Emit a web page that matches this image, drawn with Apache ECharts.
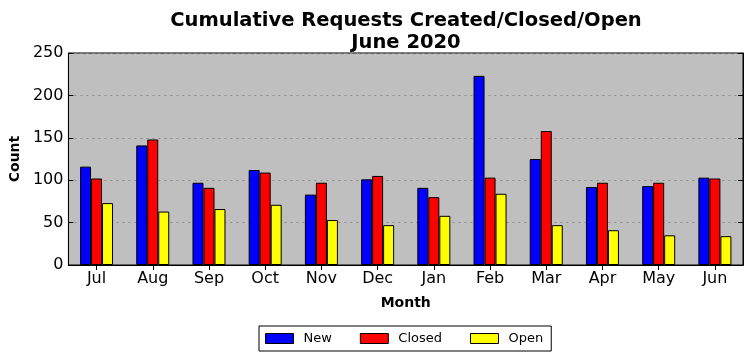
<!DOCTYPE html>
<html><head><meta charset="utf-8">
<script src="https://cdn.jsdelivr.net/npm/echarts@6/dist/echarts.min.js"></script>
<style>html,body{margin:0;padding:0;background:#fff}#c{width:752px;height:361px}</style>
</head><body><div id="c"></div>
<script>
const months = ['Jul','Aug','Sep','Oct','Nov','Dec','Jan','Feb','Mar','Apr','May','Jun'];
const newVals = [116,141,97,112,83,101,91,223,125,92,93,103];
const closedVals = [102,148,91,109,97,105,80,103,158,97,97,102];
const openVals = [73,63,66,71,53,47,58,84,47,41,35,34];
const yTicks = [0,50,100,150,200,250];

const F = 'DejaVu Sans';
const chart = echarts.init(document.getElementById('c'));
function bar(name, data, color){
  return {name, type:'bar', data, barWidth:11, barGap:'0%',
    itemStyle:{color, borderColor:'#000', borderWidth:1}, xAxisIndex:0, yAxisIndex:0};
}
chart.setOption({
  animation:false,
  textStyle:{fontFamily:F},
  title:{text:'Cumulative Requests Created/Closed/Open\nJune 2020', left:401, top:5, textAlign:'center',
    textStyle:{fontFamily:F, fontSize:19.5, fontWeight:'bold', color:'#000', lineHeight:22, align:'center'}},
  grid:{left:67, right:9, top:53, bottom:96, show:true, backgroundColor:'#bfbfbf', borderColor:'#000', borderWidth:1},
  legend:{left:259, top:326, orient:'horizontal', itemWidth:28, itemHeight:10, itemGap:28,
    icon:'rect',
    borderColor:'#000', borderWidth:1, borderRadius:0, padding:[6,8,6,6],
    itemStyle:{borderColor:'#000', borderWidth:1},
    textStyle:{fontFamily:F, fontSize:13, color:'#000', padding:[0,0,0,5]},
    data:['New','Closed','Open']},
  xAxis:[
    {type:'category', data:months, position:'bottom',
      name:'Month', nameLocation:'middle', nameGap:31,
      nameTextStyle:{fontFamily:F, fontSize:14, fontWeight:'bold', color:'#000'},
      axisLine:{show:true, lineStyle:{color:'#000'}},
      axisTick:{show:true, inside:true, alignWithLabel:true, length:5, lineStyle:{color:'#000'}},
      axisLabel:{fontFamily:F, fontSize:16, color:'#000', margin:6},
      splitLine:{show:false}},
    {type:'category', data:months, position:'top',
      axisLine:{show:true, lineStyle:{color:'#000'}},
      axisTick:{show:true, inside:true, alignWithLabel:true, length:5, lineStyle:{color:'#000'}},
      axisLabel:{show:false}, splitLine:{show:false}}
  ],
  yAxis:[
    {type:'value', min:0, max:250, interval:50, position:'left',
      name:'Count', nameLocation:'middle', nameGap:44,
      nameTextStyle:{fontFamily:F, fontSize:14, fontWeight:'bold', color:'#000'},
      axisLine:{show:true, lineStyle:{color:'#000'}},
      axisTick:{show:true, inside:true, length:5, lineStyle:{color:'#000'}},
      axisLabel:{fontFamily:F, fontSize:16, color:'#000', margin:5},
      splitLine:{show:true, lineStyle:{color:'#8a8a8a', type:[2,4], width:1}}},
    {type:'value', min:0, max:250, interval:50, position:'right',
      axisLine:{show:true, lineStyle:{color:'#000'}},
      axisTick:{show:true, inside:true, length:5, lineStyle:{color:'#000'}},
      axisLabel:{show:false}, splitLine:{show:false}}
  ],
  series:[
    bar('New', newVals, '#0000ff'),
    bar('Closed', closedVals, '#ff0000'),
    bar('Open', openVals, '#ffff00')
  ]
});
</script></body></html>
